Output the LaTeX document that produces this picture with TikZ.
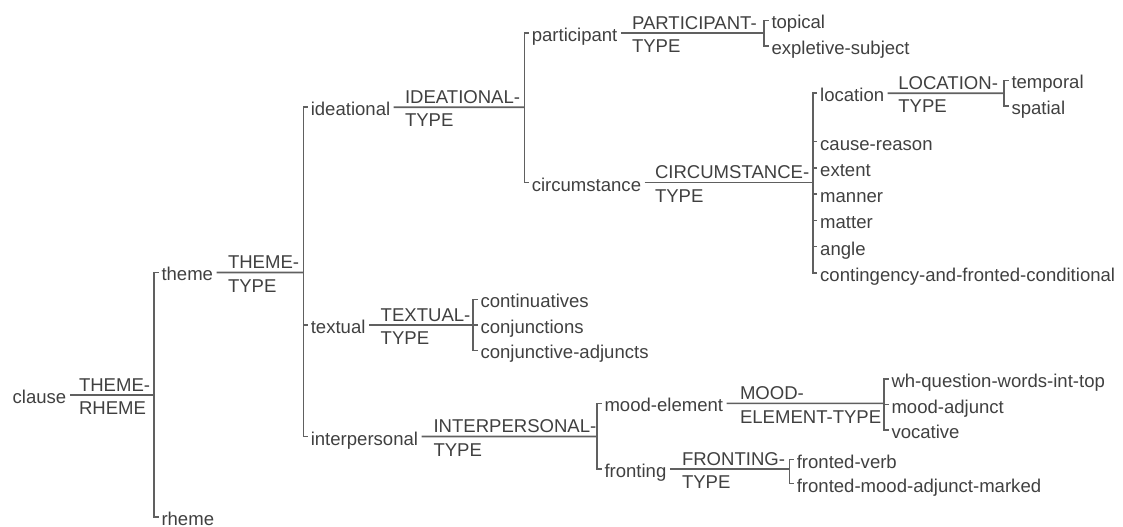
\documentclass[tikz,border=0pt]{standalone}
\usepackage{fontspec}
\setmainfont{Liberation Sans}
\usetikzlibrary{calc}
\definecolor{txtc}{RGB}{64,64,64}
\definecolor{linec}{RGB}{96,96,96}
\newcommand\netfont{\fontsize{18.55bp}{23.4bp}\selectfont}
\tikzset{
  item/.style={anchor=base west, inner sep=0pt, outer sep=0pt, text=txtc, font=\netfont},
  conn/.style={draw=linec, line width=1.6bp},
}
\begin{document}
\begin{tikzpicture}[x=1bp,y=-1bp]
\useasboundingbox (0,0) rectangle (1123,527);
% ---------- items ----------
\node[item] (clause) at (12.7,403.5) {clause};
\node[item] (theme) at (161.5,281) {theme};
\node[item] (rheme) at (161.5,525.3) {rheme};
\node[item] (ideational) at (310.8,115.8) {ideational};
\node[item] (textual) at (310.8,333.5) {textual};
\node[item] (interpersonal) at (310.8,445) {interpersonal};
\node[item] (participant) at (531.8,41.5) {participant};
\node[item] (circumstance) at (531.8,191.2) {circumstance};
\node[item] (topical) at (771.5,29) {topical};
\node[item] (expletive) at (771.5,54.5) {expletive-subject};
\node[item] (location) at (820.2,101.8) {location};
\node[item] (causereason) at (820.2,150.2) {cause-reason};
\node[item] (extent) at (820.2,176.5) {extent};
\node[item] (manner) at (820.2,202.8) {manner};
\node[item] (matter) at (820.2,229) {matter};
\node[item] (angle) at (820.2,255.2) {angle};
\node[item] (contingency) at (820.2,281.8) {contingency-and-fronted-conditional};
\node[item] (temporal) at (1011.5,89) {temporal};
\node[item] (spatial) at (1011.5,114.5) {spatial};
\node[item] (continuatives) at (480.5,308) {continuatives};
\node[item] (conjunctions) at (480.5,333.5) {conjunctions};
\node[item] (conjadj) at (480.5,359) {conjunctive-adjuncts};
\node[item] (moodelement) at (604.5,411.8) {mood-element};
\node[item] (fronting) at (604.5,477.5) {fronting};
\node[item] (wh) at (891.5,387.5) {wh-question-words-int-top};
\node[item] (moodadjunct) at (891.5,413) {mood-adjunct};
\node[item] (vocative) at (891.5,438.5) {vocative};
\node[item] (frontedverb) at (796.8,468) {fronted-verb};
\node[item] (frontedmood) at (796.8,492) {fronted-mood-adjunct-marked};
% ---------- system labels ----------
\node[item] (s0a) at (79,391.3) {THEME-};
\node[item] (s0b) at (79,414.7) {RHEME};
\node[item] (s1a) at (228,268.8) {THEME-};
\node[item] (s1b) at (228,292.2) {TYPE};
\node[item] (s2a) at (405,103.6) {IDEATIONAL-};
\node[item] (s2b) at (405,127.0) {TYPE};
\node[item] (s3a) at (632,29.3) {PARTICIPANT-};
\node[item] (s3b) at (632,52.7) {TYPE};
\node[item] (s4a) at (655,179.0) {CIRCUMSTANCE-};
\node[item] (s4b) at (655,202.4) {TYPE};
\node[item] (s5a) at (898.3,89.6) {LOCATION-};
\node[item] (s5b) at (898.3,113.0) {TYPE};
\node[item] (s6a) at (380.7,321.3) {TEXTUAL-};
\node[item] (s6b) at (380.7,344.7) {TYPE};
\node[item] (s7a) at (433.5,432.8) {INTERPERSONAL-};
\node[item] (s7b) at (433.5,456.2) {TYPE};
\node[item] (s8a) at (740,399.6) {MOOD-};
\node[item] (s8b) at (740,423.0) {ELEMENT-TYPE};
\node[item] (s9a) at (682,465.3) {FRONTING-};
\node[item] (s9b) at (682,488.7) {TYPE};
% ---------- bracket junctions ----------
\coordinate (b0) at (154,395);
\coordinate (b1) at (303.3,272.5);
\coordinate (b2) at (524.3,107.3);
\coordinate (b3) at (764,33);
\coordinate (b4) at (812.7,182.7);
\coordinate (b5) at (1004,93.3);
\coordinate (b6) at (473,325);
\coordinate (b7) at (597,436.5);
\coordinate (b8) at (884,403.3);
\coordinate (b9) at (789.3,469);
% ---------- entry lines ----------
\draw[conn] ($(clause.base east)+(3.5,-8.5)$) -- (b0);
\draw[conn] ($(theme.base east)+(3.5,-8.5)$) -- (b1);
\draw[conn] ($(ideational.base east)+(3.5,-8.5)$) -- (b2);
\draw[conn] ($(participant.base east)+(3.5,-8.5)$) -- (b3);
\draw[conn] ($(circumstance.base east)+(3.5,-8.5)$) -- (b4);
\draw[conn] ($(location.base east)+(3.5,-8.5)$) -- (b5);
\draw[conn] ($(textual.base east)+(3.5,-8.5)$) -- (b6);
\draw[conn] ($(interpersonal.base east)+(3.5,-8.5)$) -- (b7);
\draw[conn] ($(moodelement.base east)+(3.5,-8.5)$) -- (b8);
\draw[conn] ($(fronting.base east)+(3.5,-8.5)$) -- (b9);
% ---------- brackets ----------
\draw[conn] ($(theme.base west)+(-3,-8.5)$) -- ++(-4.5,0) |- ($(rheme.base west)+(-3,-8.5)$);
\draw[conn] ($(ideational.base west)+(-3,-8.5)$) -- ++(-4.5,0) |- ($(interpersonal.base west)+(-3,-8.5)$);
\draw[conn] ($(textual.base west)+(-3,-8.5)$) -- ++(-4.5,0);
\draw[conn] ($(participant.base west)+(-3,-8.5)$) -- ++(-4.5,0) |- ($(circumstance.base west)+(-3,-8.5)$);
\draw[conn] ($(topical.base west)+(-3,-8.5)$) -- ++(-4.5,0) |- ($(expletive.base west)+(-3,-8.5)$);
\draw[conn] ($(location.base west)+(-3,-8.5)$) -- ++(-4.5,0) |- ($(contingency.base west)+(-3,-8.5)$);
\foreach \c in {causereason,extent,manner,matter,angle}
  \draw[conn] ($(\c.base west)+(-3,-8.5)$) -- ++(-4.5,0);
\draw[conn] ($(temporal.base west)+(-3,-8.5)$) -- ++(-4.5,0) |- ($(spatial.base west)+(-3,-8.5)$);
\draw[conn] ($(continuatives.base west)+(-3,-8.5)$) -- ++(-4.5,0) |- ($(conjadj.base west)+(-3,-8.5)$);
\draw[conn] ($(conjunctions.base west)+(-3,-8.5)$) -- ++(-4.5,0);
\draw[conn] ($(moodelement.base west)+(-3,-8.5)$) -- ++(-4.5,0) |- ($(fronting.base west)+(-3,-8.5)$);
\draw[conn] ($(wh.base west)+(-3,-8.5)$) -- ++(-4.5,0) |- ($(vocative.base west)+(-3,-8.5)$);
\draw[conn] ($(moodadjunct.base west)+(-3,-8.5)$) -- ++(-4.5,0);
\draw[conn] ($(frontedverb.base west)+(-3,-8.5)$) -- ++(-4.5,0) |- ($(frontedmood.base west)+(-3,-8.5)$);
\end{tikzpicture}
\end{document}
